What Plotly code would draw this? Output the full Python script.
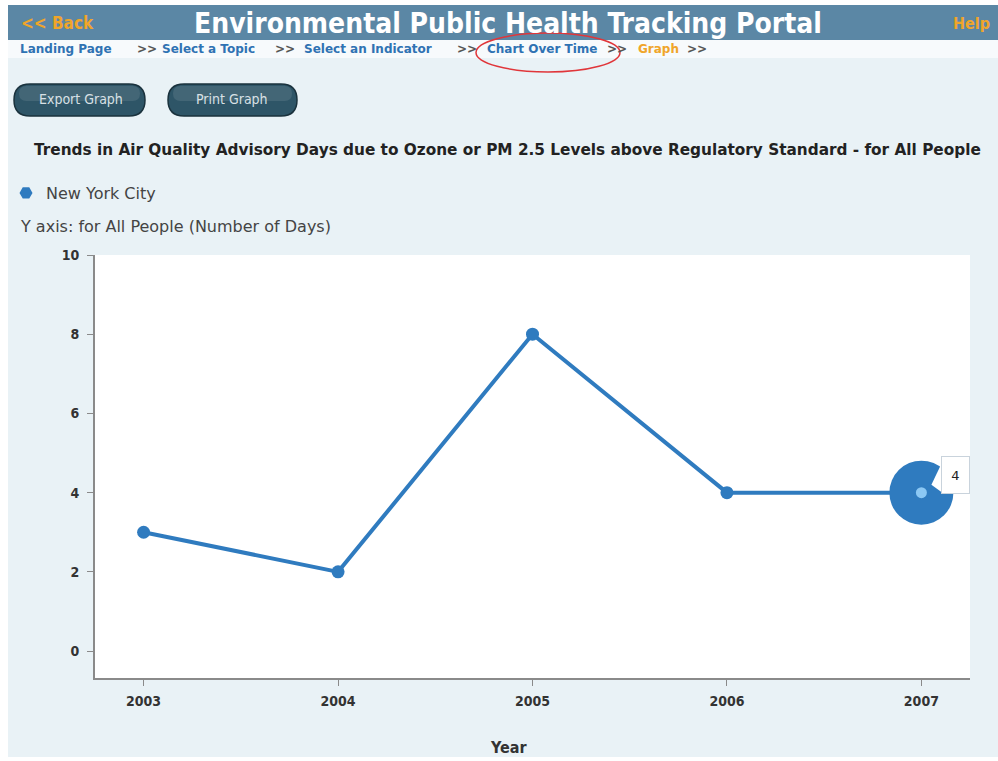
import plotly.graph_objects as go

# ---- data ----
years = [2003, 2004, 2005, 2006, 2007]
days = [3, 2, 8, 4, 4]
series_name = "New York City"
y_ticks = [0, 2, 4, 6, 8, 10]
chart_title = "Trends in Air Quality Advisory Days due to Ozone or PM 2.5 Levels above Regulatory Standard - for All People"
y_label = "Y axis: for All People (Number of Days)"
x_label = "Year"
highlight_index = 4
breadcrumbs = ["Landing Page", "Select a Topic", "Select an Indicator", "Chart Over Time", "Graph"]

W, H = 998, 761
ml, mr, mt, mb = 95, 28, 255, 83
pw, ph = W - ml - mr, H - mt - mb


def px(x):
    return (x - ml) / pw


def py(y):
    return 1 - (y - mt) / ph


BLUE = "#2f7bbf"
COND = "DejaVu Sans Condensed"

fig = go.Figure()

fig.add_trace(go.Scatter(
    x=years, y=days, mode="lines+markers",
    line=dict(color=BLUE, width=4),
    marker=dict(color=BLUE, size=13),
    showlegend=False, hoverinfo="x+y",
))
# highlighted point
fig.add_trace(go.Scatter(
    x=[years[highlight_index]], y=[days[highlight_index]], mode="markers",
    marker=dict(color=BLUE, size=64),
    showlegend=False, hoverinfo="skip",
))
fig.add_trace(go.Scatter(
    x=[years[highlight_index]], y=[days[highlight_index]], mode="markers",
    marker=dict(color="#8cc8f4", size=11),
    showlegend=False, hoverinfo="skip",
))
# legend entry
fig.add_trace(go.Scatter(
    x=[None], y=[None], mode="markers", name=series_name,
    marker=dict(color=BLUE, size=13, symbol="hexagon2"),
    showlegend=True,
))

shapes = []
shapes.append(dict(type="rect", xref="paper", yref="paper", layer="below",
                   x0=px(8), x1=px(998), y0=py(58), y1=py(757),
                   fillcolor="#e9f2f6", line=dict(width=0)))
shapes.append(dict(type="rect", xref="paper", yref="paper", layer="below",
                   x0=px(8), x1=px(998), y0=py(40), y1=py(58),
                   fillcolor="#f7fafc", line=dict(width=0)))
shapes.append(dict(type="rect", xref="paper", yref="paper", layer="below",
                   x0=px(8), x1=px(998), y0=py(5), y1=py(40),
                   fillcolor="#5b87a5", line=dict(width=0)))
shapes.append(dict(type="rect", xref="paper", yref="paper", layer="below",
                   x0=0, x1=1, y0=0, y1=1,
                   fillcolor="white", line=dict(width=0)))
shapes.append(dict(type="circle", xref="paper", yref="paper",
                   x0=px(476), x1=px(620), y0=py(33), y1=py(72),
                   line=dict(color="#e0363a", width=1.5)))
# tooltip pointer (pixel offsets relative to the highlighted point)
shapes.append(dict(type="path", layer="above",
                   xref="x", yref="y",
                   xsizemode="pixel", ysizemode="pixel",
                   xanchor=years[highlight_index], yanchor=days[highlight_index],
                   path="M 21 31 L 21 0 L 10 8 Z",
                   fillcolor="white", line=dict(width=0)))


def pill(x0, x1, y0, y1):
    r = (y1 - y0) / 2
    ym = (y0 + y1) / 2
    pts = [
        f"M {px(x0 + r)} {py(y0)}",
        f"L {px(x1 - r)} {py(y0)}",
        f"Q {px(x1)} {py(y0)} {px(x1)} {py(ym)}",
        f"Q {px(x1)} {py(y1)} {px(x1 - r)} {py(y1)}",
        f"L {px(x0 + r)} {py(y1)}",
        f"Q {px(x0)} {py(y1)} {px(x0)} {py(ym)}",
        f"Q {px(x0)} {py(y0)} {px(x0 + r)} {py(y0)}",
        "Z",
    ]
    return " ".join(pts)


for (bx0, bx1) in [(14, 145), (168, 297)]:
    shapes.append(dict(type="path", xref="paper", yref="paper",
                       path=pill(bx0, bx1, 84, 116),
                       fillcolor="#2e5567", line=dict(color="#1a323d", width=1.5)))
    shapes.append(dict(type="path", xref="paper", yref="paper",
                       path=pill(bx0 + 5, bx1 - 5, 86, 101),
                       fillcolor="rgba(255,255,255,0.10)", line=dict(width=0)))

annotations = []


def txt(x, y, text, size, color, family="DejaVu Sans", xanchor="left", bold=False):
    t = f"<b>{text}</b>" if bold else text
    annotations.append(dict(xref="paper", yref="paper", x=px(x), y=py(y), text=t,
                            showarrow=False, xanchor=xanchor, yanchor="middle",
                            font=dict(size=size, color=color, family=family)))


# header
txt(19, 23, "&lt;&lt; Back", 17, "#f0a52a", family=COND, bold=True)
txt(508, 23, "Environmental Public Health Tracking Portal", 28, "white",
    family=COND, xanchor="center", bold=True)
txt(992, 23, "Help", 16, "#f0a52a", family=COND, xanchor="right", bold=True)

# breadcrumbs
L = "#2f72b3"
G = "#555555"
O = "#f0a52a"
crumb_x = [18, 160, 302, 485, 636]
sep_x = [135, 273, 455, 605, 685]
for i, c in enumerate(breadcrumbs):
    col = O if c == "Graph" else L
    txt(crumb_x[i], 49, c, 12, col, family="DejaVu Sans", bold=True)
    txt(sep_x[i], 49, "&gt;&gt;", 12, G, family="DejaVu Sans", bold=True)

# buttons
txt(81, 99, "Export Graph", 14, "#d8e0e5", family=COND, xanchor="center")
txt(232, 99, "Print Graph", 14, "#d8e0e5", family=COND, xanchor="center")

# title
txt(507, 150, chart_title, 15.3, "#222222", family="DejaVu Sans", xanchor="center", bold=True)

# y label
txt(18, 226, y_label, 16, "#444444", family="DejaVu Sans")

# x label
txt(508, 747, x_label, 16, "#333333", family=COND, xanchor="center", bold=True)

# tooltip box
annotations.append(dict(
    x=years[highlight_index], y=days[highlight_index], xref="x", yref="y",
    text=str(days[highlight_index]), showarrow=False,
    xanchor="left", yanchor="bottom", xshift=20, yshift=-1,
    width=21, height=30, align="center", valign="middle",
    bgcolor="white", bordercolor="#c9d3dc", borderwidth=1, borderpad=3,
    font=dict(size=13, color="#222222", family="DejaVu Sans"),
))

fig.update_layout(
    width=W, height=H,
    margin=dict(l=ml, r=mr, t=mt, b=mb, autoexpand=False),
    paper_bgcolor="white",
    plot_bgcolor="rgba(0,0,0,0)",
    shapes=shapes,
    annotations=annotations,
    showlegend=True,
    legend=dict(x=px(6), y=py(193), xanchor="left", yanchor="middle",
                bgcolor="rgba(0,0,0,0)",
                font=dict(size=16, color="#444444", family="DejaVu Sans")),
    xaxis=dict(
        range=[2002.75, 2007.25],
        tickvals=years, ticktext=[f"<b>{y}</b>" for y in years],
        showgrid=False, zeroline=False,
        showline=True, linecolor="#8a8a8a", linewidth=2,
        ticks="outside", ticklen=6, tickcolor="#8a8a8a", tickwidth=1,
        tickfont=dict(size=14, color="#333333", family=COND),
        ticklabelstandoff=3,
        automargin=False,
    ),
    yaxis=dict(
        range=[-0.68, 10],
        tickvals=y_ticks, ticktext=[f"<b>{v}</b>" for v in y_ticks],
        showgrid=False, zeroline=False,
        showline=True, linecolor="#8a8a8a", linewidth=2,
        ticks="outside", ticklen=6, tickcolor="#8a8a8a", tickwidth=1,
        tickfont=dict(size=14, color="#333333", family=COND),
        ticklabelstandoff=5,
        automargin=False,
    ),
)

fig.write_html("out.html", config={"displayModeBar": False},
               post_script="document.body.style.margin='0';")
